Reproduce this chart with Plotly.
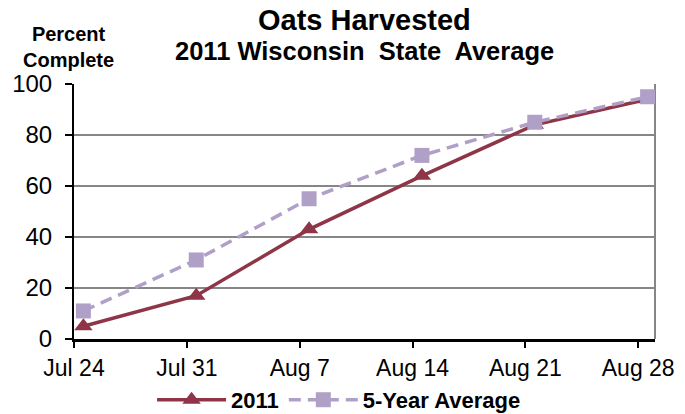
import pandas as pd
import plotly.graph_objects as go

# ---- data ----
week_dates = ["2011-07-24", "2011-07-31", "2011-08-07", "2011-08-14", "2011-08-21", "2011-08-28"]
tick_labels = ["Jul 24", "Jul 31", "Aug 7", "Aug 14", "Aug 21", "Aug 28"]
pct_2011 = [5, 17, 43, 64, 84, 94]
pct_5yr = [11, 31, 55, 72, 85, 95]

RED = "#8E3548"
LAV = "#B0A0C8"
FONT = "Liberation Sans, Arial, sans-serif"

dates = pd.to_datetime(week_dates)
tick_shift = pd.Timedelta(hours=14)
tickvals = [d - tick_shift for d in dates]
x_range = [tickvals[0], tickvals[-1] + pd.Timedelta(hours=25)]

fig = go.Figure()
fig.add_trace(go.Scatter(
    x=dates, y=pct_2011, name="2011", mode="lines+markers",
    line=dict(color=RED, width=3.5),
    marker=dict(symbol="triangle-up", size=16, color=RED),
))
fig.add_trace(go.Scatter(
    x=dates, y=pct_5yr, name="5-Year Average", mode="lines+markers",
    line=dict(color=LAV, width=3.5, dash="12px,7px"),
    marker=dict(symbol="square", size=15, color=LAV),
))

fig.update_layout(
    width=685, height=414,
    margin=dict(l=74, r=30, t=84, b=75, autoexpand=False),
    paper_bgcolor="white", plot_bgcolor="white",
    font=dict(family=FONT, color="black"),
    showlegend=True,
    legend=dict(
        orientation="h", xref="container", yref="container",
        x=0.495, xanchor="center", y=0.034, yanchor="middle",
        font=dict(size=22, family=FONT, color="black", weight="bold"),
        itemwidth=69, bgcolor="rgba(0,0,0,0)",
    ),
    xaxis=dict(
        type="date", range=x_range, tickvals=tickvals, ticktext=tick_labels,
        showgrid=False, showline=True, linecolor="black", linewidth=3,
        ticks="outside", ticklen=6, tickwidth=2, tickcolor="black",
        tickfont=dict(size=23, family=FONT, color="black"),
        zeroline=False, automargin=False,
    ),
    yaxis=dict(
        range=[0, 100], dtick=20, showgrid=True, gridcolor="#868686", gridwidth=2,
        showline=True, linecolor="black", linewidth=2,
        ticks="outside", ticklen=7, tickwidth=2, tickcolor="black",
        tickfont=dict(size=24, family=FONT, color="black"),
        ticklabelstandoff=8, zeroline=False, automargin=False,
    ),
    shapes=[
        dict(type="line", xref="paper", yref="paper", x0=1, x1=1, y0=0, y1=1,
             line=dict(color="#868686", width=2), layer="below"),
    ],
    annotations=[
        dict(text="<b>Oats Harvested</b>", xref="paper", yref="paper", x=0.5, y=1.251,
             xanchor="center", yanchor="middle", showarrow=False,
             font=dict(size=29, family=FONT, color="black")),
        dict(text="<b>2011 Wisconsin  State  Average</b>", xref="paper", yref="paper",
             x=0.5, y=1.129, xanchor="center", yanchor="middle", showarrow=False,
             font=dict(size=25.5, family=FONT, color="black")),
        dict(text="<b>Percent<br>Complete</b>", xref="paper", yref="paper",
             x=-0.009, y=1.145, xanchor="center", yanchor="middle", showarrow=False,
             font=dict(size=20, family=FONT, color="black")),
    ],
)

fig.write_html(
    "out.html",
    config={"displayModeBar": False},
    post_script="document.body.style.margin='0';document.body.style.overflow='hidden';",
)
